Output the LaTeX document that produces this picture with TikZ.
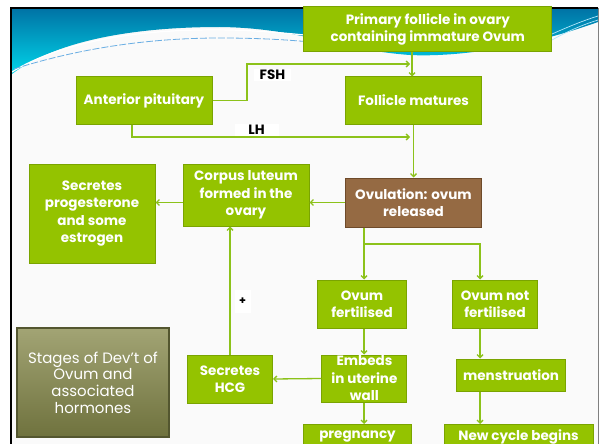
\documentclass[tikz,border=0pt]{standalone}
\usepackage{fontspec}
\setmainfont{Poppins}
\usetikzlibrary{arrows.meta, positioning, calc}

\definecolor{leaf}{HTML}{94C300}
\definecolor{leafedge}{HTML}{7AA400}
\definecolor{bark}{HTML}{956A43}
\definecolor{barkedge}{HTML}{6E4A2A}
\definecolor{olivetop}{HTML}{A2A474}
\definecolor{olivebot}{HTML}{6F723E}
\definecolor{wire}{HTML}{8CC21A}
\definecolor{seatop}{HTML}{0074A6}
\definecolor{seabot}{HTML}{00D4E8}
\definecolor{paper}{HTML}{FAFAFA}

\tikzset{
  stagebox/.style={draw=leafedge, fill=leaf, line width=1pt, text=white,
    font=\bfseries\fontsize{13.5}{17.5}\selectfont, align=center, inner sep=0pt},
  hormone/.style={fill=white, text=black, font=\bfseries\fontsize{13.5}{15}\selectfont, inner sep=0pt},
  link/.style={wire, line width=1.3pt, -{Straight Barb[length=3pt,width=6pt]}},
}

\begin{document}
\begin{tikzpicture}[x=1pt, y=-1pt]
    \useasboundingbox (0,0) rectangle (600,444);
    \clip (0,0) rectangle (600,444);

    % slide background and wave
    \fill[paper] (12,9) rectangle (598,444);
    \shade[top color=seatop, bottom color=seabot]
        (12,9) -- (598,9) -- (598,22) .. controls (520,50) and (450,57) .. (410,55)
        .. controls (340,50) and (300,28) .. (220,27)
        .. controls (120,27) and (50,45) .. (12,74) -- cycle;
    \draw[white, line width=1.2pt] (12,72) .. controls (60,42) and (140,28) .. (230,30) .. controls (300,32) and (360,42) .. (420,50);
    \draw[cyan!70!blue!60, line width=0.8pt, dash pattern=on 7pt off 2pt]
        (14,69) .. controls (80,48) and (150,38) .. (220,38) .. controls (260,38) and (290,40) .. (310,42);
    \draw[white!70!cyan, line width=0.7pt] (552,40) .. controls (570,30) and (585,24) .. (598,20);
    \draw[white!70!cyan, line width=0.7pt] (552,34) .. controls (570,26) and (585,20) .. (598,16);
    \draw[line width=2pt] (11,444) -- (11,8) -- (598,8);
    \draw[gray, line width=0.8pt] (598,8) -- (598,444);

    % ---------------- boxes ----------------
    \node[stagebox, minimum width=248, minimum height=45] (follicle) at (427.8,29.5)
        {Primary follicle in ovary\\containing immature Ovum};
    \node[stagebox, minimum width=136, minimum height=47] (pituitary) at (144,100.5) {Anterior pituitary};
    \node[stagebox, minimum width=136, minimum height=47] (matures) at (413.5,100.5) {Follicle matures};
    \node[stagebox, draw=barkedge, fill=bark, minimum width=136, minimum height=49] (ovulation) at (413.5,202.5)
        {Ovulation: ovum\\released};
    \node[stagebox, minimum width=126, minimum height=62] (corpus) at (246,195)
        {Corpus luteum\\formed in the\\ovary};
    \node[stagebox, minimum width=126, minimum height=99] (progesterone) at (92,213.5)
        {Secretes\\progesterone\\and some\\estrogen};
    \node[stagebox, minimum width=89, minimum height=48] (fertilised) at (362,304) {Ovum\\fertilised};
    \node[stagebox, minimum width=85, minimum height=48] (notfert) at (495,304) {Ovum not\\fertilised};
    \node[stagebox, minimum width=85, minimum height=47] (embeds) at (364.4,378.5) {Embeds\\in uterine\\wall};
    \node[stagebox, minimum width=85, minimum height=48] (hcg) at (230,379) {Secretes\\HCG};
    \node[stagebox, minimum width=109, minimum height=32] (mens) at (511,375) {menstruation};
    \node[stagebox, minimum width=149, minimum height=24] (newcycle) at (518.5,436.5) {New cycle begins};
    \node[stagebox, minimum width=108, minimum height=24] (pregnancy) at (357.5,436.5) {pregnancy};

    % title box
    \node[draw=olivebot!75!black, line width=1.5pt, top color=olivetop, bottom color=olivebot,
          text=white, font=\fontsize{15}{16.7}\selectfont, align=center, inner sep=0pt,
          minimum width=152, minimum height=109] (stages) at (93,382.5)
        {Stages of Dev't of\\Ovum and\\associated\\hormones};

    % ---------------- hormone labels ----------------
    \coordinate (fshtip) at (410,64);
    \coordinate (lhtip) at (410,137);
    \coordinate (fork) at (364,244);
    \coordinate (rtrack) at (480,0);
    \coordinate (ftrack) at (412,0);

    \node[hormone, minimum width=37, minimum height=12] (fsh) at (272.5,75) {FSH};
    \node[hormone, minimum width=44, minimum height=12] (lh) at (256.6,130) {LH};
    \node[hormone, font=\bfseries\fontsize{11}{12}\selectfont, minimum width=16, minimum height=23] (plus) at (242.7,301.5) {+};

    % ---------------- connectors ----------------
    \draw[link] (pituitary.east) -- ++(34.5,0) |- (fshtip);
    \draw[link] (follicle.south -| ftrack) -- (matures.north -| ftrack);
    \draw[link] ($(pituitary.south)+(-12,0)$) |- (lhtip);
    \draw[link] (matures.south) -- (ovulation.north);
    \draw[link] (ovulation.west) -- (ovulation.west -| corpus.east);
    \draw[link] (ovulation.west -| corpus.west) -- (ovulation.west -| progesterone.east);
    \draw[link] (ovulation.south -| fork) -- (fertilised.north -| fork);
    \draw[link] (fork) -| (notfert.north -| rtrack);
    \draw[link] (notfert.south -| rtrack) -- (mens.north -| rtrack);
    \draw[link] (mens.south -| rtrack) -- (newcycle.north -| rtrack);
    \draw[link] (fertilised.south -| fork) -- (embeds.north -| fork);
    \draw[link] (embeds.south -| fork) -- (pregnancy.north -| fork);
    \draw[link] (embeds.west) -- (hcg.east);
    \draw[link] (hcg.north) -- (corpus.south -| hcg.north);
\end{tikzpicture}
\end{document}
